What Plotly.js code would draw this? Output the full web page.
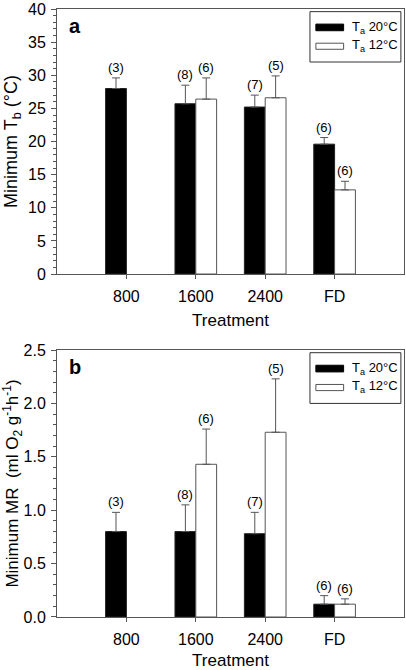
<!DOCTYPE html>
<html>
<head>
<meta charset="utf-8">
<script src="https://cdn.plot.ly/plotly-3.0.1.min.js"></script>
<style>html,body{margin:0;padding:0;background:#fff;}#chart{width:406px;height:670px;}</style>
</head>
<body>
<div id="chart"></div>
<script>
// ---- data ----
var categories = ['800', '1600', '2400', 'FD'];
var seriesNames = ['T<sub>a</sub> 20°C', 'T<sub>a</sub> 12°C'];

// Panel a: minimum body temperature (°C)
var tb20 = [28.0, 25.7, 25.2, 19.6];
var tb20Err = [1.6, 2.8, 1.8, 1.0];
var tb12 = [null, 26.4, 26.6, 12.7];
var tb12Err = [null, 3.2, 3.3, 1.3];
var nTb20 = [3, 8, 7, 6];
var nTb12 = [null, 6, 5, 6];

// Panel b: minimum metabolic rate (ml O2 g-1 h-1)
var mr20 = [0.80, 0.80, 0.78, 0.12];
var mr20Err = [0.18, 0.25, 0.20, 0.08];
var mr12 = [null, 1.43, 1.73, 0.12];
var mr12Err = [null, 0.33, 0.50, 0.05];
var nMr20 = [3, 8, 7, 6];
var nMr12 = [null, 6, 5, 6];

// ---- chart ----
var FONT = 'Liberation Sans, Arial, sans-serif';
var AXC = '#555555';
var idx = categories.map(function (c, i) { return i; });
var W = 0.3;

function zeros(a) { return a.map(function (v) { return v == null ? null : 0; }); }

function barTrace(vals, errs, isBlack, xa, ya) {
  return {
    type: 'bar', x: idx, y: vals, xaxis: xa, yaxis: ya,
    width: W, offset: isBlack ? -W : 0,
    marker: { color: isBlack ? '#000000' : '#ffffff', line: { color: isBlack ? '#222222' : AXC, width: 1 } },
    error_y: { type: 'data', symmetric: false, array: errs, arrayminus: zeros(errs), color: AXC, thickness: 1, width: 4 },
    showlegend: false, hoverinfo: 'skip'
  };
}

var traces = [
  barTrace(tb20, tb20Err, true, 'x', 'y'),
  barTrace(tb12, tb12Err, false, 'x', 'y'),
  barTrace(mr20, mr20Err, true, 'x2', 'y2'),
  barTrace(mr12, mr12Err, false, 'x2', 'y2')
];

var annotations = [];
function nLabels(vals, errs, ns, dx, xa, ya) {
  vals.forEach(function (v, i) {
    if (v == null) return;
    annotations.push({
      x: i + dx, y: v + errs[i], xref: xa, yref: ya, text: '(' + ns[i] + ')',
      showarrow: false, yanchor: 'bottom', yshift: 1,
      font: { family: FONT, size: 13, color: '#000' }
    });
  });
}
nLabels(tb20, tb20Err, nTb20, -W / 2, 'x', 'y');
nLabels(tb12, tb12Err, nTb12, W / 2, 'x', 'y');
nLabels(mr20, mr20Err, nMr20, -W / 2, 'x2', 'y2');
nLabels(mr12, mr12Err, nMr12, W / 2, 'x2', 'y2');

var shapes = [];
function panelDeco(letter, xa, ya) {
  var xd = xa + ' domain', yd = ya + ' domain';
  annotations.push({ x: 0.028, y: 0.935, xref: xd, yref: yd, text: '<b>' + letter + '</b>', showarrow: false,
    xanchor: 'left', yanchor: 'middle', font: { family: FONT, size: 20, color: '#000' } });
  shapes.push({ type: 'rect', xref: xd, yref: yd, x0: 0.729, x1: 0.991, y0: 0.80, y1: 0.99,
    line: { color: '#333', width: 1 }, fillcolor: '#fff' });
  shapes.push({ type: 'rect', xref: xd, yref: yd, x0: 0.746, x1: 0.826, y0: 0.918, y1: 0.943,
    line: { color: '#000', width: 1 }, fillcolor: '#000' });
  shapes.push({ type: 'rect', xref: xd, yref: yd, x0: 0.746, x1: 0.826, y0: 0.848, y1: 0.871,
    line: { color: AXC, width: 1 }, fillcolor: '#fff' });
  annotations.push({ x: 0.845, y: 0.932, xref: xd, yref: yd, text: seriesNames[0], showarrow: false,
    xanchor: 'left', yanchor: 'middle', font: { family: FONT, size: 13, color: '#000' } });
  annotations.push({ x: 0.845, y: 0.862, xref: xd, yref: yd, text: seriesNames[1], showarrow: false,
    xanchor: 'left', yanchor: 'middle', font: { family: FONT, size: 13, color: '#000' } });
}
panelDeco('a', 'x', 'y');
panelDeco('b', 'x2', 'y2');

function xAxis(anchor) {
  return {
    anchor: anchor, domain: [0, 1], range: [-1, 4], tickmode: 'array', tickvals: idx, ticktext: categories,
    showgrid: false, zeroline: false, showline: true, linecolor: AXC, linewidth: 1, mirror: true,
    ticks: 'outside', ticklen: 4, tickcolor: AXC, ticklabelstandoff: 4,
    tickfont: { family: FONT, size: 16, color: '#000' },
    title: { text: 'Treatment', font: { family: FONT, size: 17, color: '#000' }, standoff: 9 }
  };
}
function yAxis(anchor, dom, range, dtick, mdt, title, tsize) {
  return {
    anchor: anchor, domain: dom, range: range, dtick: dtick,
    showgrid: false, zeroline: false, showline: true, linecolor: AXC, linewidth: 1, mirror: true,
    ticks: 'outside', ticklen: 5, tickcolor: AXC, ticklabelstandoff: 2,
    minor: { dtick: mdt, ticks: 'outside', ticklen: 3, tickcolor: AXC, showgrid: false },
    tickfont: { family: FONT, size: 16, color: '#000' },
    title: { text: title, font: { family: FONT, size: tsize, color: '#000' }, standoff: 5 }
  };
}

var layout = {
  width: 406, height: 670,
  margin: { l: 57, r: 2, t: 9, b: 53 },
  paper_bgcolor: '#fff', plot_bgcolor: '#fff',
  barmode: 'overlay',
  showlegend: false,
  xaxis: xAxis('y'),
  yaxis: yAxis('x', [0.5641, 1], [0, 40], 5, 1, 'Minimum T<sub>b</sub> (°C)', 18),
  xaxis2: xAxis('y2'),
  yaxis2: yAxis('x2', [0, 0.4391], [0, 2.5], 0.5, 0.1, 'Minimum MR  (ml O<sub>2</sub> g<sup>-1</sup>h<sup>-1</sup>)', 17),
  annotations: annotations,
  shapes: shapes
};
layout.yaxis2.tickformat = '.1f';

Plotly.newPlot('chart', traces, layout, { displayModeBar: false, staticPlot: true });
</script>
</body>
</html>
